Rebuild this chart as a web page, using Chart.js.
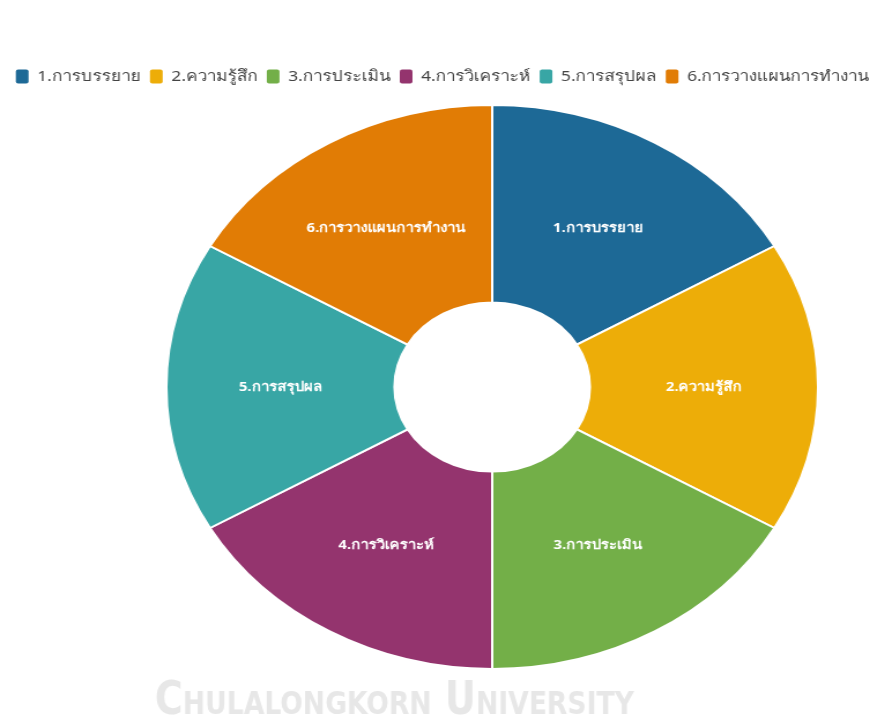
<!DOCTYPE html>
<html>
<head>
<meta charset="utf-8">
<script src="https://cdn.jsdelivr.net/npm/chart.js@4/dist/chart.umd.min.js"></script>
<style>
  html, body { margin: 0; padding: 0; background: #fff; overflow: hidden; }
  #wrap { width: 766px; height: 718px; transform: scaleX(1.1554); transform-origin: 0 0; }
</style>
</head>
<body>
<div id="wrap"><canvas id="pie" width="766" height="718"></canvas></div>
<script>
// the reference picture is stretched sideways, so the canvas is drawn narrow and scaled by css
const categories = ["1.การบรรยาย", "2.ความรู้สึก", "3.การประเมิน", "4.การวิเคราะห์", "5.การสรุปผล", "6.การวางแผนการทำงาน"];
const values = [1, 1, 1, 1, 1, 1];
const sliceColors = ["#1D6996", "#EDAD08", "#73AF48", "#94346E", "#38A6A5", "#E17C05"];
const watermark = "Chulalongkorn University";

// empty boxes: one on the left so the ring sits right of the legend's centre,
// one under the legend for the gap
const spacerBox = (position, size) => ({
    position: position,
    weight: 0,
    fullSize: false,
    options: {},
    isHorizontal() { return position === "top" || position === "bottom"; },
    update(maxW, maxH) {
        if (this.isHorizontal()) { this.width = maxW; this.height = size; }
        else { this.width = size; this.height = maxH; }
    },
    draw() {}
});

const spacers = {
    id: "spacers",
    beforeInit(chart) {
        Chart.layouts.addBox(chart, spacerBox("left", 86));
        Chart.layouts.addBox(chart, spacerBox("top", 10));
    }
};

const sliceLabels = {
    id: "sliceLabels",
    afterDatasetsDraw(chart) {
        const ctx = chart.ctx;
        const meta = chart.getDatasetMeta(0);
        ctx.save();
        ctx.fillStyle = "#fff";
        ctx.font = "bold 13px 'Noto Sans', sans-serif";
        ctx.textAlign = "center";
        ctx.textBaseline = "middle";
        meta.data.forEach((arc, i) => {
            const p = arc.getCenterPoint();
            ctx.fillText(chart.data.labels[i], p.x, p.y);
        });
        ctx.restore();
    }
};

const watermarkText = {
    id: "watermarkText",
    afterDraw(chart) {
        const ctx = chart.ctx;
        ctx.save();
        ctx.fillStyle = "#e7e7e7";
        ctx.font = "small-caps bold 46px 'DejaVu Sans Condensed', 'Liberation Sans Narrow', sans-serif";
        ctx.textAlign = "left";
        ctx.textBaseline = "alphabetic";
        ctx.translate(134, 714);
        ctx.scale(0.8, 1);
        ctx.fillText(watermark, 0, 0);
        ctx.restore();
    }
};

const baseLabels = Chart.overrides.doughnut.plugins.legend.labels.generateLabels;

new Chart(document.getElementById("pie"), {
    type: "doughnut",
    data: {
        labels: categories,
        datasets: [{
            data: values,
            backgroundColor: sliceColors,
            borderColor: "#fff",
            borderWidth: 2,
            hoverOffset: 0
        }]
    },
    options: {
        responsive: false,
        animation: false,
        cutout: "30%",
        layout: { padding: { top: 61, bottom: 48 } },
        plugins: {
            tooltip: { enabled: false },
            legend: {
                position: "top",
                labels: {
                    color: "#444",
                    font: { family: "'Noto Sans', sans-serif", size: 15 },
                    boxWidth: 11,
                    boxHeight: 14,
                    padding: 8,
                    useBorderRadius: true,
                    borderRadius: 2,
                    generateLabels: (chart) => baseLabels(chart).map((item) => {
                        item.strokeStyle = item.fillStyle;
                        item.lineWidth = 0;
                        return item;
                    })
                }
            }
        }
    },
    plugins: [spacers, sliceLabels, watermarkText]
});
</script>
</body>
</html>
